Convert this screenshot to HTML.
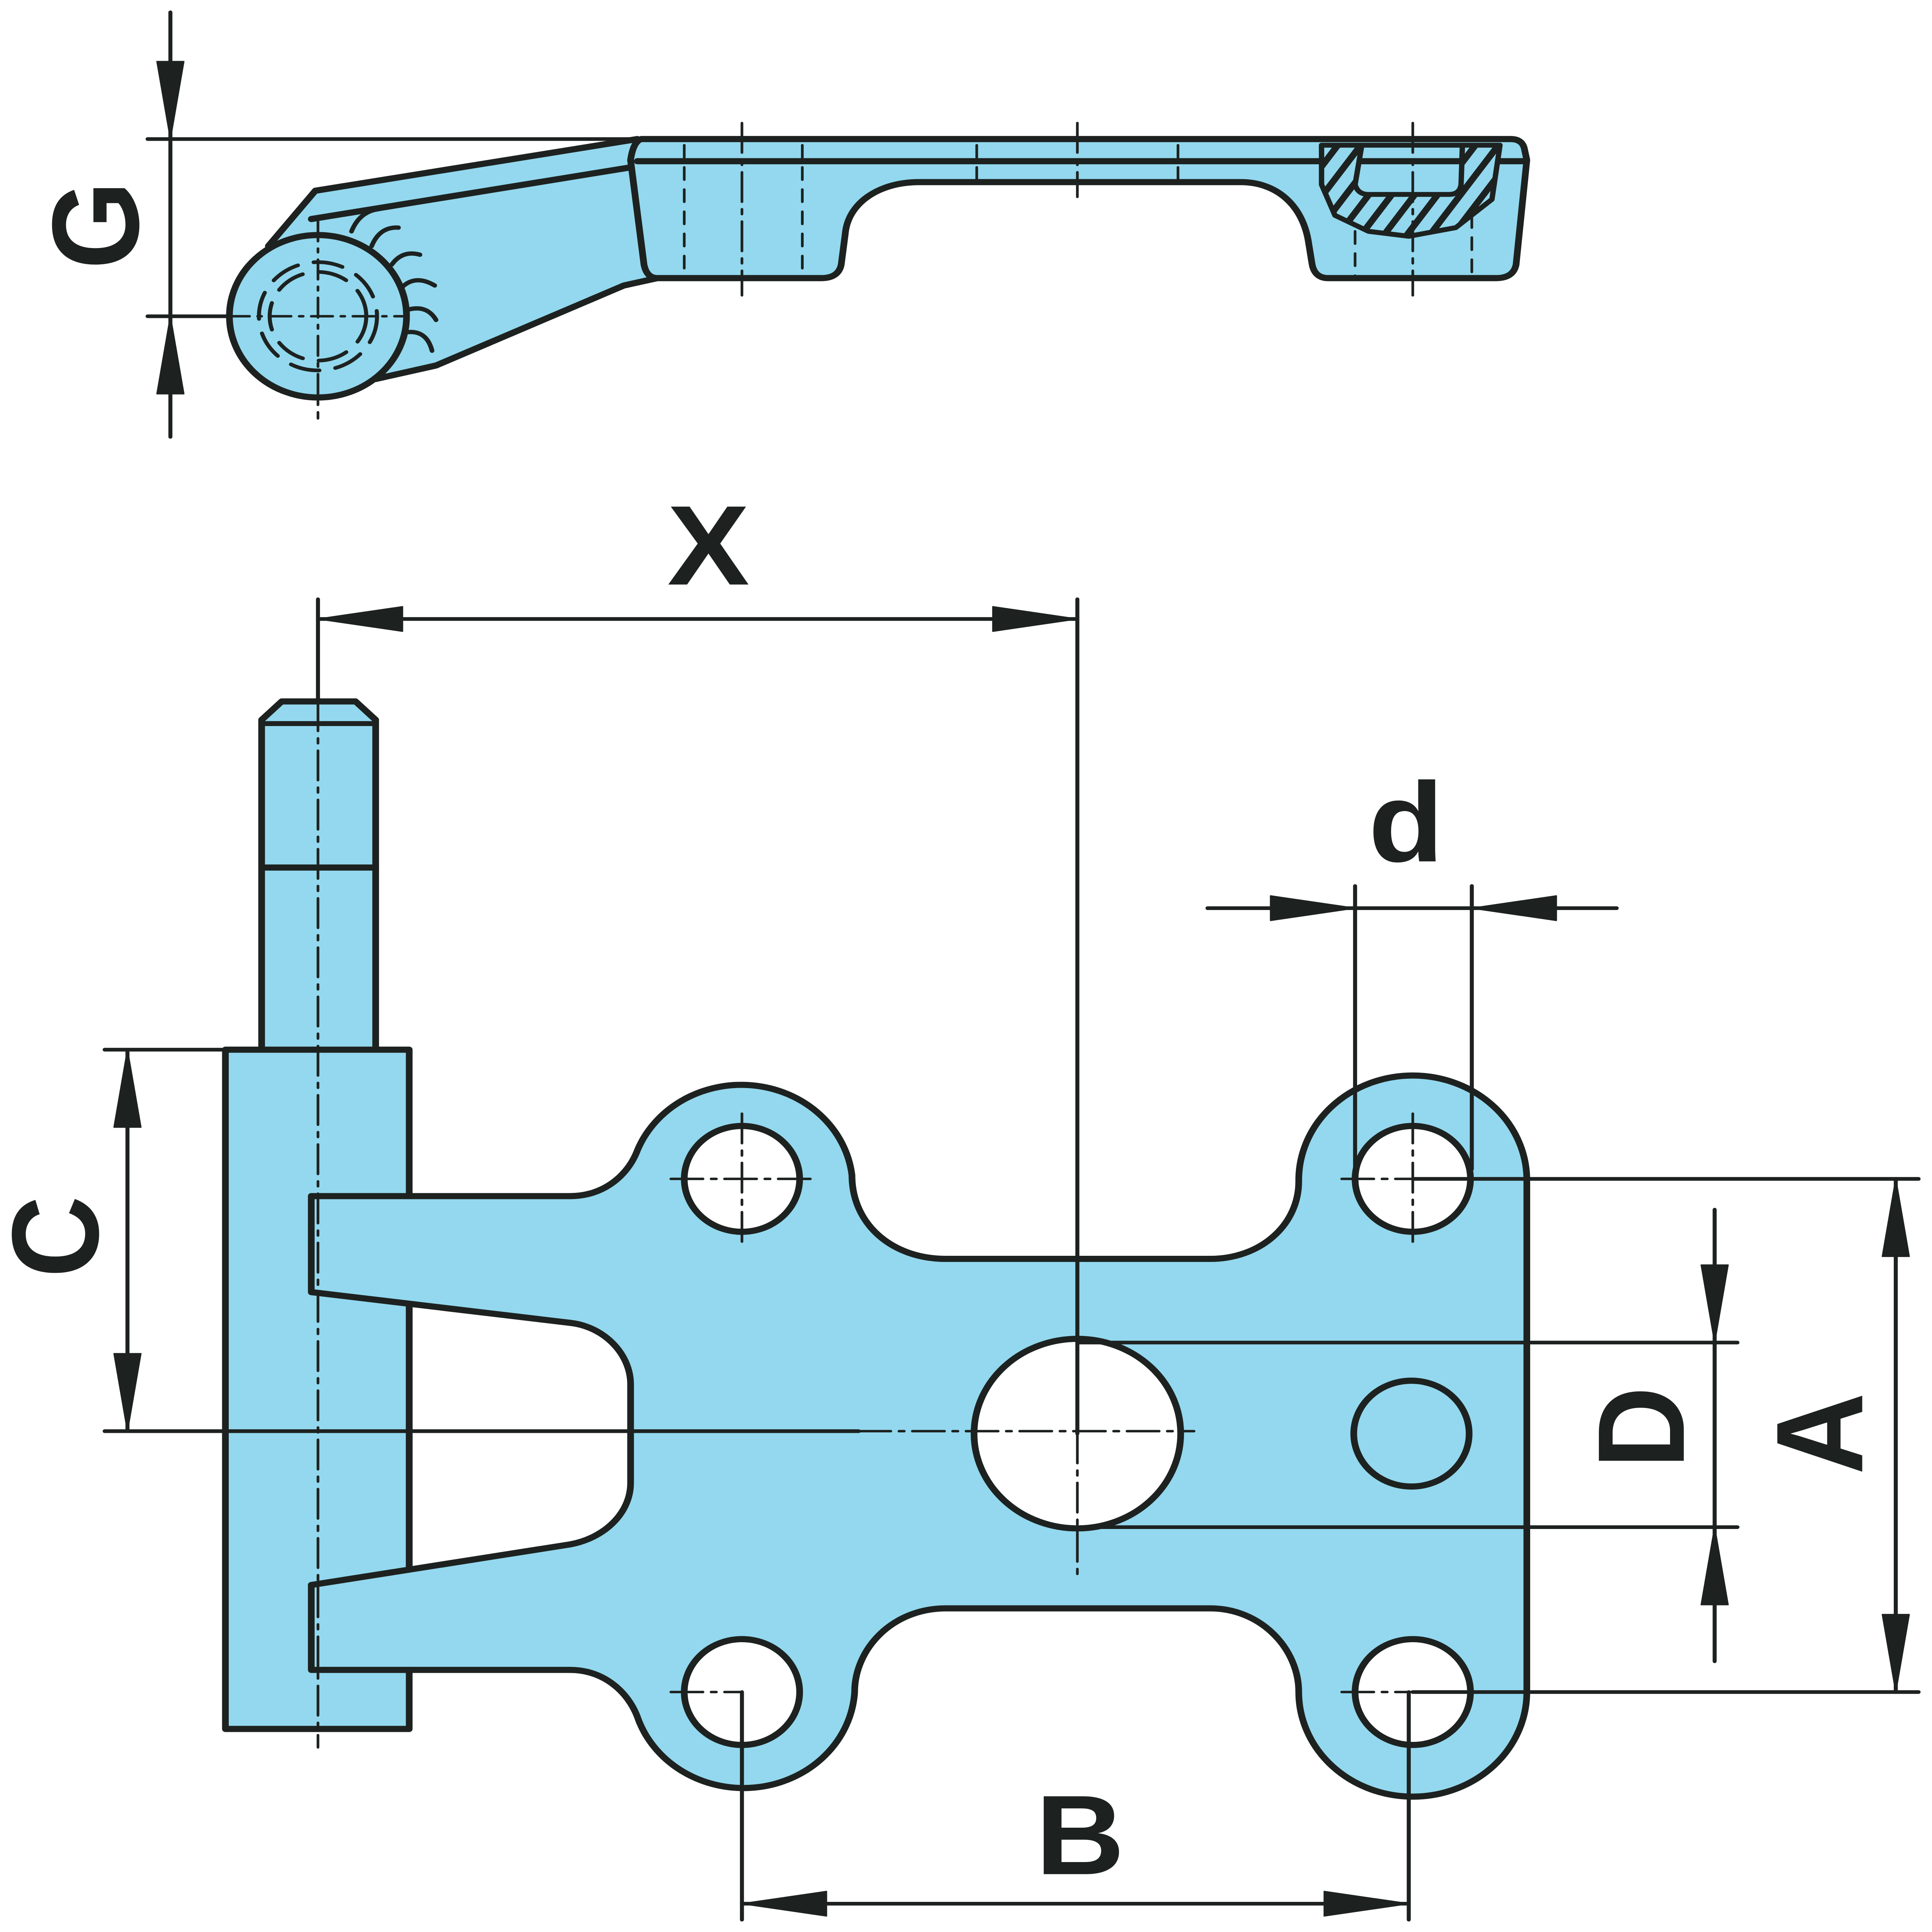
<!DOCTYPE html>
<html><head><meta charset="utf-8"><style>
html,body{margin:0;padding:0;background:#fff;width:100%;height:100%;overflow:hidden;}
svg{display:block;position:fixed;left:0;top:0;width:100vw;height:100vh;}
text{font-family:"Liberation Sans",sans-serif;font-weight:bold;fill:#1d2220;}
</style></head><body>
<svg viewBox="0 0 1440 1570" preserveAspectRatio="none" xmlns="http://www.w3.org/2000/svg">
<defs>
<pattern id="h" patternUnits="userSpaceOnUse" width="14" height="14" patternTransform="rotate(35)">
<rect width="14" height="14" fill="#93d8ee"/><rect width="5" height="14" fill="#1d2220"/>
</pattern>
</defs>
<g stroke="#1d2220" stroke-linejoin="round" stroke-linecap="round">
<line x1="110" y1="113" x2="475" y2="113" stroke-width="3"/>
<line x1="110" y1="257" x2="237" y2="257" stroke-width="3"/>
<line x1="127" y1="10" x2="127" y2="355" stroke-width="3"/>
<polygon points="127,113 117,50 137,50" fill="#1d2220" stroke-width="1"/>
<polygon points="127,257 117,320 137,320" fill="#1d2220" stroke-width="1"/>
<path d="M475,113 L235,155 L200,200 L280,308 L325,297 L465,232 L490,226 L480,215 L470,130 Z" fill="#93d8ee" stroke-width="5"/>
<line x1="232" y1="178" x2="470" y2="136" stroke-width="5"/>
<g fill="none" stroke-width="3.5">
<path d="M262,188 Q268,172 282,170"/><path d="M277,200 Q283,184 297,185"/>
<path d="M292,215 Q300,203 313,207"/><path d="M300,233 Q310,223 324,232"/>
<path d="M303,252 Q318,247 325,260"/><path d="M303,270 Q318,268 322,285"/>
</g>
<circle cx="237" cy="257" r="66" fill="#93d8ee" stroke-width="5"/>
<g fill="none" stroke-width="3" stroke-dasharray="22,12">
<circle cx="237" cy="257" r="44"/><circle cx="237" cy="257" r="36"/>
</g>
<line x1="237" y1="180" x2="237" y2="340" stroke-width="2" stroke-dasharray="16,6,3,6"/>
<line x1="170" y1="257" x2="300" y2="257" stroke-width="2" stroke-dasharray="16,6,3,6"/>
<path d="M478,113 L1126,113 Q1134,113 1136,120 L1138,130 L1130,215 Q1128,226 1115,226 L990,226 Q980,226 978,215 L975,195 C970,165 950,148 925,148 L685,148 C655,148 632,165 630,190 L627,215 Q625,226 612,226 L490,226 Q482,226 480,215 L470,130 Q472,115 478,113 Z" fill="#93d8ee" stroke-width="5"/>
<line x1="475" y1="131" x2="1136" y2="131" stroke-width="5"/>
<path d="M985,118 L1118,118 L1112,162 L1085,185 L1050,192 L1020,188 L995,175 L985,150 Z M1015,118 L1010,150 Q1012,158 1020,158 L1080,158 Q1088,158 1089,150 L1090,118 Z" fill="url(#h)" fill-rule="evenodd" stroke-width="4"/>
<g stroke-width="2" stroke-dasharray="10,8">
<line x1="510" y1="118" x2="510" y2="226"/><line x1="598" y1="118" x2="598" y2="226"/>
<line x1="1010" y1="188" x2="1010" y2="226"/><line x1="1097" y1="175" x2="1097" y2="226"/>
<line x1="728" y1="118" x2="728" y2="148"/><line x1="878" y1="118" x2="878" y2="148"/>
</g>
<g stroke-width="2" stroke-dasharray="24,6,4,6">
<line x1="553" y1="100" x2="553" y2="240"/><line x1="803" y1="100" x2="803" y2="160"/><line x1="1053" y1="100" x2="1053" y2="240"/>
</g>
<path d="M195,853 L195,585 L210,570 L265,570 L280,585 L280,853" fill="#93d8ee" stroke-width="5"/>
<line x1="195" y1="588" x2="280" y2="588" stroke-width="4"/>
<line x1="195" y1="705" x2="280" y2="705" stroke-width="5"/>
<rect x="168" y="853" width="137" height="552" fill="#93d8ee" stroke-width="5"/>
<path d="M232,972 L425,972 C450,972 468,955 475,935 A83,83 0 0 1 635,955 C635,995 665,1023 705,1023 L902,1023 C940,1023 968,995 968,960 A85,85 0 0 1 1138,958 L1138,1375 A85,85 0 0 1 968,1375 C968,1340 940,1307 902,1307 L705,1307 C665,1307 637,1340 637,1375 A83,83 0 0 1 475,1395 C468,1375 450,1357 425,1357 L232,1357 L232,1288 L425,1255 C450,1250 470,1230 470,1205 L470,1125 C470,1100 450,1078 425,1075 L232,1050 Z" fill="#93d8ee" stroke-width="5"/>
<line x1="305" y1="1062" x2="305" y2="1275" stroke-width="5"/>
<g fill="#fff" stroke-width="5">
<circle cx="553" cy="958" r="43"/><circle cx="1053" cy="958" r="43"/>
<circle cx="553" cy="1375" r="43"/><circle cx="1053" cy="1375" r="43"/>
<circle cx="803" cy="1165" r="77"/>
</g>
<circle cx="1052" cy="1165" r="43" fill="#93d8ee" stroke-width="5"/>
<g stroke-width="2" stroke-dasharray="24,6,4,6">
<line x1="500" y1="958" x2="606" y2="958"/><line x1="553" y1="905" x2="553" y2="1012"/>
<line x1="1000" y1="958" x2="1053" y2="958"/><line x1="1053" y1="905" x2="1053" y2="1012"/>
<line x1="500" y1="1375" x2="553" y2="1375"/><line x1="1000" y1="1375" x2="1053" y2="1375"/>
<line x1="640" y1="1163" x2="890" y2="1163"/><line x1="803" y1="1165" x2="803" y2="1280"/>
<line x1="237" y1="570" x2="237" y2="1420"/>
</g>
<g stroke-width="3" fill="none">
<line x1="237" y1="487" x2="237" y2="570"/><line x1="803" y1="487" x2="803" y2="1165"/>
<line x1="237" y1="503" x2="803" y2="503"/>
<line x1="1010" y1="720" x2="1010" y2="950"/><line x1="1097" y1="720" x2="1097" y2="950"/>
<line x1="900" y1="738" x2="1205" y2="738"/>
<line x1="78" y1="853" x2="168" y2="853"/><line x1="78" y1="1163" x2="640" y2="1163"/>
<line x1="95" y1="853" x2="95" y2="1163"/>
<line x1="803" y1="1091" x2="1295" y2="1091"/><line x1="803" y1="1241" x2="1295" y2="1241"/>
<line x1="1278" y1="983" x2="1278" y2="1350"/>
<line x1="1053" y1="958" x2="1430" y2="958"/><line x1="1053" y1="1375" x2="1430" y2="1375"/>
<line x1="1413" y1="958" x2="1413" y2="1375"/>
<line x1="553" y1="1375" x2="553" y2="1560"/><line x1="1050" y1="1375" x2="1050" y2="1560"/>
<line x1="553" y1="1547" x2="1050" y2="1547"/>
</g>
<g fill="#1d2220" stroke-width="1">
<polygon points="237,503 300,493 300,513"/><polygon points="803,503 740,493 740,513"/>
<polygon points="1010,738 947,728 947,748"/><polygon points="1097,738 1160,728 1160,748"/>
<polygon points="95,853 85,916 105,916"/><polygon points="95,1163 85,1100 105,1100"/>
<polygon points="1278,1091 1268,1028 1288,1028"/><polygon points="1278,1241 1268,1304 1288,1304"/>
<polygon points="1413,958 1403,1021 1423,1021"/><polygon points="1413,1375 1403,1312 1423,1312"/>
<polygon points="553,1547 616,1537 616,1557"/><polygon points="1050,1547 987,1537 987,1557"/>
</g>
</g>
<text x="528" y="475" font-size="92" text-anchor="middle">X</text>
<text x="1048" y="700" font-size="92" text-anchor="middle">d</text>
<text x="805" y="1523" font-size="92" text-anchor="middle">B</text>
<text transform="translate(103,183) rotate(-90)" font-size="92" text-anchor="middle">G</text>
<text transform="translate(73,1005) rotate(-90)" font-size="92" text-anchor="middle">C</text>
<text transform="translate(1255,1160) rotate(-90)" font-size="92" text-anchor="middle">D</text>
<text transform="translate(1388,1165) rotate(-90)" font-size="92" text-anchor="middle">A</text>
</svg>
</body></html>
